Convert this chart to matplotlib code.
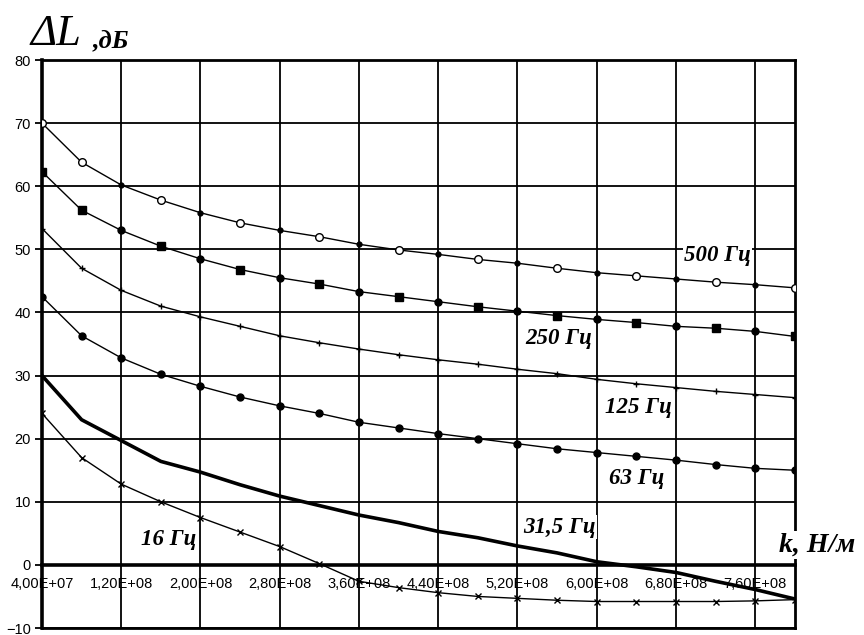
import matplotlib.pyplot as plt
import numpy as np

# Data (stiffness k, N/m vs insertion loss dL, dB)
k = [4e7, 8e7, 1.2e8, 1.6e8, 2.0e8, 2.4e8, 2.8e8, 3.2e8, 3.6e8, 4.0e8,
     4.4e8, 4.8e8, 5.2e8, 5.6e8, 6.0e8, 6.4e8, 6.8e8, 7.2e8, 7.6e8, 8.0e8]

dl_500 = [70.0, 63.8, 60.2, 57.8, 55.8, 54.2, 53.0, 52.0, 50.8, 49.9,
          49.2, 48.4, 47.8, 47.0, 46.3, 45.8, 45.3, 44.8, 44.4, 43.9]
dl_250 = [62.3, 56.2, 53.0, 50.5, 48.5, 46.8, 45.5, 44.5, 43.3, 42.5,
          41.7, 40.9, 40.2, 39.5, 38.9, 38.4, 37.8, 37.5, 37.0, 36.2]
dl_125 = [53.3, 47.0, 43.5, 41.0, 39.3, 37.8, 36.3, 35.2, 34.2, 33.3,
          32.5, 31.8, 31.0, 30.3, 29.4, 28.7, 28.1, 27.5, 27.0, 26.5]
dl_63 = [42.5, 36.3, 32.8, 30.2, 28.3, 26.6, 25.2, 24.0, 22.6, 21.7,
         20.8, 20.0, 19.2, 18.4, 17.8, 17.2, 16.6, 15.9, 15.3, 15.0]
dl_31 = [30.0, 23.0, 19.7, 16.4, 14.7, 12.7, 10.9, 9.4, 7.9, 6.7,
         5.3, 4.3, 3.0, 1.9, 0.5, -0.3, -1.2, -2.6, -3.9, -5.4]
dl_16 = [24.0, 17.0, 12.8, 10.0, 7.5, 5.2, 2.9, 0.2, -2.6, -3.6,
         -4.4, -5.0, -5.3, -5.6, -5.8, -5.8, -5.8, -5.8, -5.7, -5.5]

x_ticks = [4e7, 1.2e8, 2.0e8, 2.8e8, 3.6e8, 4.4e8, 5.2e8, 6.0e8, 6.8e8, 7.6e8]
x_tick_labels = ["4,00E+07", "1,20E+08", "2,00E+08", "2,80E+08", "3,60E+08",
                 "4,40E+08", "5,20E+08", "6,00E+08", "6,80E+08", "7,60E+08"]
y_ticks = [-10, 0, 10, 20, 30, 40, 50, 60, 70, 80]

fig = plt.figure(figsize=(8.64, 6.35), dpi=100)
ax = fig.add_axes([0.0486, 0.011, 0.8714, 0.8945])

ax.set_xlim(4e7, 8e8)
ax.set_ylim(-10, 80)

# grid
for xv in x_ticks[1:]:
    ax.axvline(xv, color="black", lw=1.3, zorder=1)
for yv in y_ticks:
    ax.axhline(yv, color="black", lw=1.3, zorder=1)

# curves (big markers between grid lines, small dots on them)
main_idx = [0] + list(range(1, 20, 2))
dot_idx = list(range(2, 20, 2))
k_dot = np.array(k)[dot_idx]

ax.plot(k, dl_500, color="black", lw=1.0, marker="o", ms=5.5, mfc="white",
        mec="black", mew=1.0, markevery=main_idx, zorder=3)
ax.plot(k_dot, np.array(dl_500)[dot_idx], ls="none", marker="o",
        ms=3.5, color="black", zorder=3)

ax.plot(k, dl_250, color="black", lw=1.0, marker="s", ms=5.5, mfc="black",
        mec="black", markevery=main_idx, zorder=3)
ax.plot(k_dot, np.array(dl_250)[dot_idx], ls="none", marker="o",
        ms=5, color="black", zorder=3)

ax.plot(k, dl_125, color="black", lw=1.0, marker="+", ms=5, mew=1.0, zorder=3)
ax.plot(k, dl_63, color="black", lw=1.0, marker="o", ms=5, mfc="black",
        mec="black", zorder=3)
ax.plot(k, dl_31, color="black", lw=2.6, zorder=3)
ax.plot(k, dl_16, color="black", lw=1.0, marker="x", ms=5, mew=1.0, zorder=3)

# frame: x axis crosses at 0
for side in ["top", "right"]:
    ax.spines[side].set_linewidth(2.0)
ax.spines["left"].set_linewidth(2.6)
ax.spines["bottom"].set_position(("data", 0))
ax.spines["bottom"].set_linewidth(2.6)
ax.axhline(-10, color="black", lw=2.0, clip_on=False, zorder=4)

ax.set_xticks(x_ticks)
ax.set_xticklabels(x_tick_labels)
ax.set_yticks(y_ticks)
ax.tick_params(axis="x", length=0, pad=9, labelsize=10.5)
ax.tick_params(axis="y", length=5, width=1.3, pad=3, labelsize=10.5)
for lab in ax.get_xticklabels() + ax.get_yticklabels():
    lab.set_fontfamily("Liberation Sans")

# curve labels
lab_font = dict(fontfamily="Liberation Serif", fontstyle="italic",
                fontweight="bold", fontsize=16.5, ha="center", va="center",
                zorder=5)
box = dict(facecolor="white", edgecolor="none", pad=1)
ax.text(7.22e8, 49.0, "500 Гц", bbox=box, **lab_font)
ax.text(5.62e8, 35.9, "250 Гц", bbox=box, **lab_font)
ax.text(6.42e8, 25.0, "125 Гц", bbox=box, **lab_font)
ax.text(6.40e8, 13.7, "63 Гц", bbox=box, **lab_font)
ax.text(5.62e8, 6.0, "31,5 Гц", bbox=box, **lab_font)
ax.text(1.68e8, 4.0, "16 Гц", bbox=box, **lab_font)

# axis titles
ax.text(8.22e8, 3.2, "k, Н/м", fontfamily="Liberation Serif", fontstyle="italic",
        fontweight="bold", fontsize=20, ha="center", va="center",
        clip_on=False, bbox=box)
fig.text(0.035, 0.915, "ΔL", fontfamily="Liberation Serif", fontstyle="italic",
         fontsize=32, ha="left", va="bottom")
fig.text(0.107, 0.917, ",дБ", fontfamily="Liberation Serif", fontstyle="italic",
         fontweight="bold", fontsize=19, ha="left", va="bottom")

fig.savefig("out.png", dpi=100)
